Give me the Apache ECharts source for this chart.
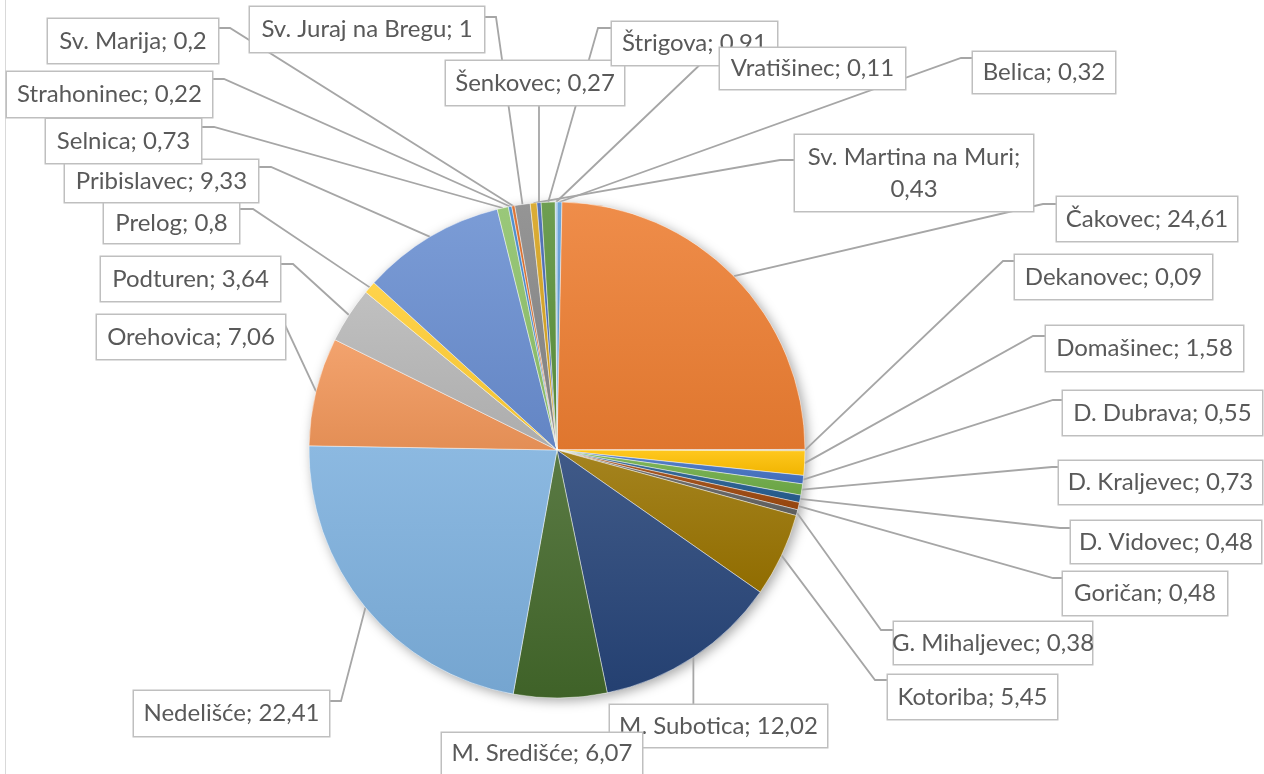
<!DOCTYPE html>
<html>
<head>
<meta charset="utf-8">
<title>Udio po općinama</title>
<style>
html, body { margin: 0; padding: 0; background: #fff; }
#main { width: 1264px; height: 774px; }
</style>
<script src="https://cdn.jsdelivr.net/npm/echarts@6/dist/echarts.min.js"></script>
</head>
<body>
<div id="main"></div>
<script>
// podaci (redoslijed kao u tablici, prvi isječak kreće od 12 sati)
var towns = ['Belica', 'Čakovec', 'Dekanovec', 'Domašinec', 'D. Dubrava', 'D. Kraljevec',
    'D. Vidovec', 'Goričan', 'G. Mihaljevec', 'Kotoriba', 'M. Subotica', 'M. Središće',
    'Nedelišće', 'Orehovica', 'Podturen', 'Prelog', 'Pribislavec', 'Selnica', 'Strahoninec',
    'Sv. Marija', 'Sv. Juraj na Bregu', 'Sv. Martina na Muri', 'Šenkovec', 'Štrigova', 'Vratišinec'];
var shares = [0.32, 24.61, 0.09, 1.58, 0.55, 0.73,
    0.48, 0.48, 0.38, 5.45, 12.02, 6.07,
    22.41, 7.06, 3.64, 0.8, 9.33, 0.73, 0.22,
    0.2, 1, 0.43, 0.27, 0.91, 0.11];

// boje (Office 2013 tema)
var palette = ['#5B9BD5', '#ED7D31', '#A5A5A5', '#FFC000', '#4472C4', '#70AD47',
    '#255E91', '#9E480E', '#636363', '#997300', '#264478', '#43682B',
    '#7CAFDD', '#F1975A', '#B7B7B7', '#FFCD33', '#698ED0', '#8CC168', '#3C82C8',
    '#D8631C', '#878787', '#D6A21C', '#3F62B0', '#5A913A', '#9DC3E6'];

// okviri oznaka: lijevo, gore, desno, dolje
var labelBoxes = [
    [973, 52, 1115, 93], [1057, 197, 1237, 241], [1015, 255, 1212, 299], [1046, 326, 1243, 371],
    [1063, 391, 1262, 435], [1059, 461, 1262, 504], [1071, 521, 1261, 563], [1063, 572, 1227, 615],
    [894, 622, 1092, 664], [888, 675, 1057, 719], [610, 705, 827, 747], [442, 733, 642, 774],
    [134, 691, 329, 736], [97, 315, 285, 359], [101, 257, 280, 301], [104, 203, 239, 243],
    [65, 160, 258, 202], [46, 119, 201, 163], [7, 72, 212, 117], [48, 19, 218, 63],
    [250, 7, 484, 52], [795, 135, 1033, 211], [446, 61, 624, 105], [612, 22, 777, 65],
    [720, 48, 905, 89]
];
// gdje linija dolazi na okvir: strana, pomak od vrha, duljina lakta
var leaderAnchors = [
    ['l', 6, 12], ['l', 7, 14], ['l', 6, 12], ['l', 10, 13],
    ['l', 9, 10], ['l', 6, 7], ['l', 7, 11], ['l', 6, 10],
    ['l', 8, 13], ['l', 5, 13], ['t', 0, 0], ['n', 0, 0],
    ['r', 10, 12], ['r', 10, 0], ['r', 7, 13], ['r', 6, 14],
    ['r', 7, 13], ['r', 8, 13], ['r', 7, 12], ['r', 9, 12],
    ['r', 10, 12], ['l', 25, 15], ['b', 0, 0], ['l', 6, 14],
    ['l', 9, 12]
];

var cx = 557, cy = 450, radius = 248;

function shade(hex, amt) {
    var n = parseInt(hex.slice(1), 16);
    var rgb = [(n >> 16) & 255, (n >> 8) & 255, n & 255];
    var out = rgb.map(function (c) {
        var v = amt > 0 ? c + (255 - c) * amt : c * (1 + amt);
        return Math.round(Math.max(0, Math.min(255, v)));
    });
    return 'rgb(' + out.join(',') + ')';
}

function sliceFill(hex) {
    return {
        type: 'linear', x: 0, y: 0, x2: 0, y2: 1,
        colorStops: [
            { offset: 0, color: shade(hex, 0.12) },
            { offset: 1, color: shade(hex, -0.06) }
        ]
    };
}

// rezervna točka na rubu ako ECharts ne vrati točke linije
function edgePoint(i) {
    var total = 0, before = 0;
    for (var k = 0; k < shares.length; k++) {
        total += shares[k];
        if (k < i) before += shares[k];
    }
    var a = (before + shares[i] / 2) / total * Math.PI * 2;
    return [cx + radius * Math.sin(a), cy - radius * Math.cos(a)];
}

var pieData = towns.map(function (name, i) {
    return { name: name, value: shares[i], itemStyle: { color: sliceFill(palette[i]) } };
});

var myChart = echarts.init(document.getElementById('main'));

var option = {
    backgroundColor: '#fff',
    animation: false,
    graphic: [{
        type: 'line',
        shape: { x1: 5.5, y1: 0, x2: 5.5, y2: 774 },
        style: { stroke: '#d9d9d9', lineWidth: 1 },
        silent: true
    }],
    series: [{
        // sjena ispod cijelog kruga
        type: 'pie',
        center: [cx, cy],
        radius: radius,
        silent: true,
        z: 1,
        label: { show: false },
        labelLine: { show: false },
        itemStyle: {
            color: '#fff',
            shadowBlur: 12,
            shadowOffsetX: 3,
            shadowOffsetY: 3,
            shadowColor: 'rgba(0,0,0,0.35)'
        },
        data: [{ value: 1, name: '' }]
    }, {
        type: 'pie',
        center: [cx, cy],
        radius: radius,
        startAngle: 90,
        clockwise: true,
        z: 2,
        avoidLabelOverlap: false,
        minShowLabelAngle: 0,
        itemStyle: {
            borderColor: 'rgba(255,255,255,0.55)',
            borderWidth: 0.8
        },
        label: {
            show: true,
            position: 'outside',
            overflow: 'none',
            fontFamily: 'Lato, "Open Sans", sans-serif',
            fontSize: 24,
            color: '#595959',
            backgroundColor: '#fff',
            borderColor: '#BFBFBF',
            borderWidth: 1.5,
            padding: 0,
            lineHeight: 32,
            formatter: function (p) {
                var v = String(p.value).replace('.', ',');
                var s = p.name + '; ' + v;
                if (s.length > 22) s = p.name + ';\n' + v;
                return s;
            }
        },
        labelLine: {
            show: true,
            lineStyle: { color: '#A6A6A6', width: 1.8 }
        },
        labelLayout: function (params) {
            var i = params.dataIndex;
            var b = labelBoxes[i];
            var a = leaderAnchors[i];
            var start = params.labelLinePoints ? params.labelLinePoints[0] : edgePoint(i);
            var end, elbow;
            if (a[0] === 'l') {
                end = [b[0], b[1] + a[1]];
                elbow = [b[0] - a[2], end[1]];
            } else if (a[0] === 'r') {
                end = [b[2], b[1] + a[1]];
                elbow = [b[2] + a[2], end[1]];
            } else if (a[0] === 't') {
                end = [start[0], b[1]];
                elbow = end;
            } else if (a[0] === 'b') {
                end = [start[0], b[3]];
                elbow = end;
            } else {
                end = start;
                elbow = start;
            }
            return {
                x: (b[0] + b[2]) / 2,
                y: (b[1] + b[3]) / 2,
                align: 'center',
                verticalAlign: 'middle',
                width: b[2] - b[0],
                height: b[3] - b[1],
                hideOverlap: false,
                labelLinePoints: [start, elbow, end]
            };
        },
        data: pieData
    }]
};

myChart.setOption(option);
</script>
</body>
</html>
